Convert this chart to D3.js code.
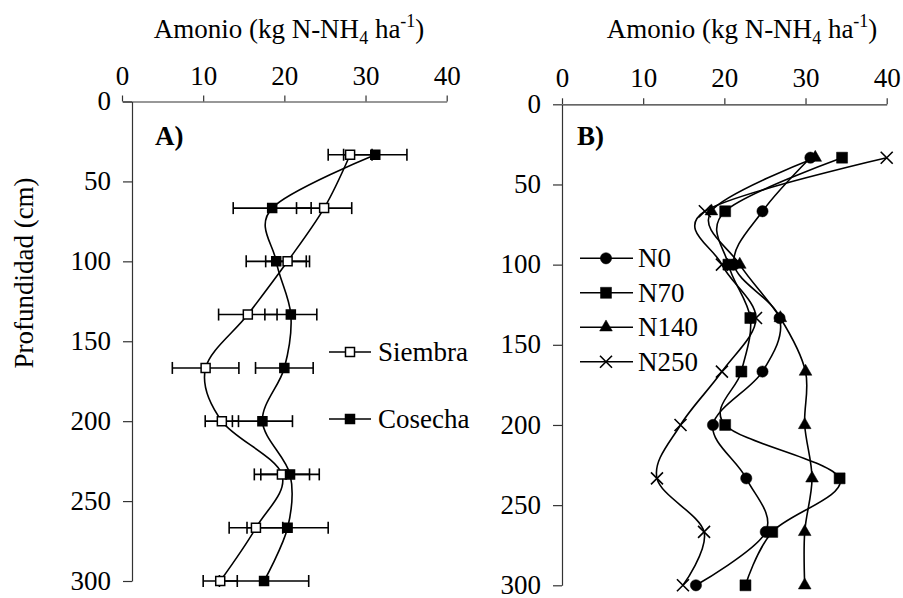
<!DOCTYPE html>
<html><head><meta charset="utf-8">
<script src="https://cdn.jsdelivr.net/npm/d3@7"></script>
<style>
body{margin:0;background:#fff;}
svg{display:block;font-family:"Liberation Serif","Times New Roman",serif;}
</style></head>
<body>
<svg id="chart" width="903" height="598"></svg>
<script>
// ---- data ----
const depths = [33.3, 66.7, 100, 133.3, 166.7, 200, 233.3, 266.7, 300];
const xTicks = [0, 10, 20, 30, 40];
const yTicks = [0, 50, 100, 150, 200, 250, 300];
// Panel A
const siembra    = [28.1, 24.9, 20.4, 15.5, 10.3, 12.3, 19.7, 16.5, 12.1];
const siembraErr = [2.7, 3.4, 2.7, 3.6, 4.1, 2.05, 3.4, 3.3, 2.1];
const cosecha    = [31.2, 18.5, 19.0, 20.8, 20.0, 17.3, 20.7, 20.4, 17.5];
const cosechaErr = [3.9, 4.8, 3.7, 3.2, 3.55, 3.7, 3.6, 5.0, 5.5];
// Panel B
const n0   = [30.6, 24.7, 21.2, 26.8, 24.7, 18.6, 22.7, 25.1, 16.5];
const n70  = [34.5, 20.1, 20.5, 23.2, 22.1, 20.1, 34.2, 25.9, 22.6];
const n140 = [31.2, 18.4, 21.9, 26.9, 30.0, 29.9, 30.8, 29.9, 29.9];
const n250 = [40.0, 17.6, 19.7, 23.9, 19.7, 14.6, 11.7, 17.5, 14.9];
const seriesA = [
  {name: "Siembra", values: siembra, err: siembraErr, fill: "#fff"},
  {name: "Cosecha", values: cosecha, err: cosechaErr, fill: "#000"}
];
const seriesB = [
  {name: "N0", values: n0, shape: "circle"},
  {name: "N70", values: n70, shape: "square"},
  {name: "N140", values: n140, shape: "triangle"},
  {name: "N250", values: n250, shape: "x"}
];

const svg = d3.select("#chart");
const FS = 27;
const curve = d3.curveCatmullRom.alpha(0);

function symPath(shape){
  if (shape === "circle") return d3.symbol(d3.symbolCircle, 100)();
  if (shape === "square") return d3.symbol(d3.symbolSquare, 121)();
  if (shape === "squareA") return d3.symbol(d3.symbolSquare, 81)();
  if (shape === "triangle") return d3.symbol(d3.symbolTriangle, 70)();
  if (shape === "x") return "M-6,-6L6,6M-6,6L6,-6";
}

function drawFrame(g, x, y, yAxisX, title, cx){
  // x axis on top
  const ax = g.append("g").attr("transform", `translate(0,${y(0)})`)
    .call(d3.axisTop(x).tickValues(xTicks).tickSizeInner(6).tickSizeOuter(0).tickPadding(11));
  // y axis
  const ay = g.append("g").attr("transform", `translate(${yAxisX},0)`)
    .call(d3.axisLeft(y).tickValues(yTicks).tickSizeInner(9).tickSizeOuter(0).tickPadding(12));
  [ax, ay].forEach(a => {
    a.selectAll("path,line").attr("stroke", "#333").attr("stroke-width", 1.2);
    a.selectAll("text").attr("font-size", FS).attr("font-family", "Liberation Serif, Times New Roman, serif").attr("fill", "#000");
  });
  ay.selectAll("text").attr("dy", "0.3em");
  // title
  const t = g.append("text").attr("x", cx).attr("y", 38).attr("text-anchor", "middle")
    .attr("font-size", FS);
  t.append("tspan").text("Amonio (kg N-NH");
  t.append("tspan").attr("dy", 6).attr("font-size", 18).text("4");
  t.append("tspan").attr("dy", -6).text(" ha");
  t.append("tspan").attr("dy", -11).attr("font-size", 18).text("-1");
  t.append("tspan").attr("dy", 11).text(")");
}

// ---------------- Panel A ----------------
const gA = svg.append("g");
const xA = d3.scaleLinear().domain([0, 40]).range([122, 446.7]);
const yA = d3.scaleLinear().domain([0, 300]).range([101.5, 581]);
drawFrame(gA, xA, yA, 132, "", 289);

gA.append("text").attr("x", 155).attr("y", 145).attr("font-size", FS)
  .attr("font-weight", "bold").text("A)");

const lineA = d3.line().x(d => xA(d[0])).y(d => yA(d[1])).curve(curve);
seriesA.forEach(s => {
  gA.append("path").attr("d", lineA(s.values.map((v, i) => [v, depths[i]])))
    .attr("fill", "none").attr("stroke", "#000").attr("stroke-width", 1.6);
});
seriesA.forEach(s => {
  const eb = gA.append("g").attr("stroke", "#000").attr("stroke-width", 1.6);
  s.values.forEach((v, i) => {
    const yy = yA(depths[i]), x1 = xA(v - s.err[i]), x2 = xA(v + s.err[i]);
    eb.append("line").attr("x1", x1).attr("x2", x2).attr("y1", yy).attr("y2", yy);
    eb.append("line").attr("x1", x1).attr("x2", x1).attr("y1", yy - 6).attr("y2", yy + 6);
    eb.append("line").attr("x1", x2).attr("x2", x2).attr("y1", yy - 6).attr("y2", yy + 6);
  });
});
seriesA.forEach(s => {
  gA.append("g").selectAll("path").data(s.values).join("path")
    .attr("d", symPath("squareA"))
    .attr("transform", (v, i) => `translate(${xA(v)},${yA(depths[i])})`)
    .attr("fill", s.fill).attr("stroke", "#000").attr("stroke-width", 1.5);
});
// legend A
seriesA.forEach((s, i) => {
  const ly = 352 + i * 67;
  const lg = gA.append("g");
  lg.append("line").attr("x1", 329).attr("x2", 371).attr("y1", ly).attr("y2", ly)
    .attr("stroke", "#000").attr("stroke-width", 1.6);
  lg.append("path").attr("d", symPath("squareA")).attr("transform", `translate(350,${ly})`)
    .attr("fill", s.fill).attr("stroke", "#000").attr("stroke-width", 1.5);
  lg.append("text").attr("x", 378).attr("y", ly).attr("dy", "0.33em").attr("font-size", FS).text(s.name);
});

// y label
svg.append("text").attr("transform", "translate(33,273) rotate(-90)")
  .attr("text-anchor", "middle").attr("font-size", FS).text("Profundidad (cm)");

// ---------------- Panel B ----------------
const gB = svg.append("g");
const xB = d3.scaleLinear().domain([0, 40]).range([562, 886.7]);
const yB = d3.scaleLinear().domain([0, 300]).range([104.3, 585.3]);
drawFrame(gB, xB, yB, 562, "", 742);

gB.append("text").attr("x", 577).attr("y", 145).attr("font-size", FS)
  .attr("font-weight", "bold").text("B)");

const lineB = d3.line().x(d => xB(d[0])).y(d => yB(d[1])).curve(curve);
seriesB.forEach(s => {
  gB.append("path").attr("d", lineB(s.values.map((v, i) => [v, depths[i]])))
    .attr("fill", "none").attr("stroke", "#000").attr("stroke-width", 1.6);
});
seriesB.forEach(s => {
  gB.append("g").selectAll("path").data(s.values).join("path")
    .attr("d", symPath(s.shape))
    .attr("transform", (v, i) => `translate(${xB(v)},${yB(depths[i])})`)
    .attr("fill", s.shape === "x" ? "none" : "#000")
    .attr("stroke", "#000").attr("stroke-width", s.shape === "x" ? 1.6 : 0.5);
});
// legend B
seriesB.forEach((s, i) => {
  const ly = 258.3 + i * 34.5;
  const lg = gB.append("g");
  lg.append("line").attr("x1", 580).attr("x2", 633).attr("y1", ly).attr("y2", ly)
    .attr("stroke", "#000").attr("stroke-width", 1.6);
  lg.append("path").attr("d", symPath(s.shape)).attr("transform", `translate(606,${ly})`)
    .attr("fill", s.shape === "x" ? "none" : "#000")
    .attr("stroke", "#000").attr("stroke-width", s.shape === "x" ? 1.6 : 0.5);
  lg.append("text").attr("x", 638).attr("y", ly).attr("dy", "0.33em").attr("font-size", FS).text(s.name);
});
</script>
</body></html>
